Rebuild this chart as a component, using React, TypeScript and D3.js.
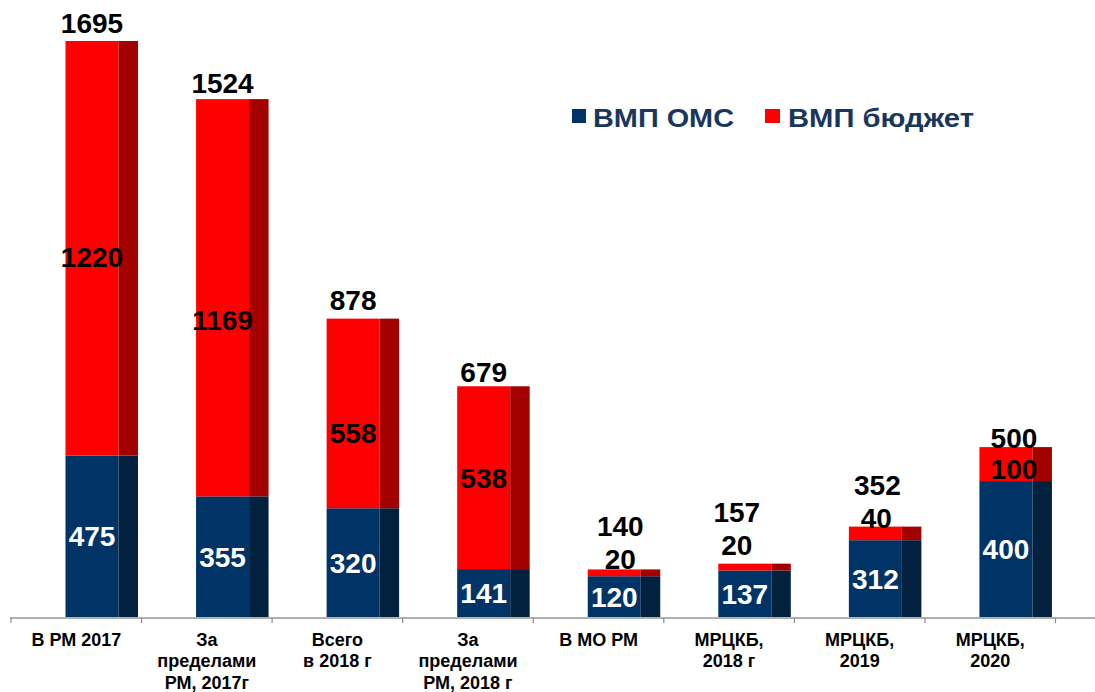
import React from "react";
import * as d3 from "d3";

// ---- data ----
const categories = [
  "В РМ 2017",
  "За\nпределами\nРМ, 2017г",
  "Всего\nв 2018 г",
  "За\nпределами\nРМ, 2018 г",
  "В МО РМ",
  "МРЦКБ,\n2018 г",
  "МРЦКБ,\n2019",
  "МРЦКБ,\n2020",
];
const seriesNames = ["ВМП ОМС", "ВМП бюджет"];
// labelled values
const omsValues = [475, 355, 320, 141, 120, 137, 312, 400];
const budgetValues = [1220, 1169, 558, 538, 20, 20, 40, 100];
const totals = [1695, 1524, 878, 679, 140, 157, 352, 500];
// heights the bars are actually drawn with in the original (2019 bar is drawn shorter than its label)
const omsDrawn = [475, 355, 320, 141, 120, 137, 226, 400];

// ---- layout (label nudges, px) ----
const totalGap = [8, 6, 9, 4, 33, 42, 32, -1];
const totalDx = [0, 0, 0, 0, 6, -8, 2, 8];
const redDy = [9, 22, 19, 0, -14, -22, -16, 5];
const redDx = [0, 0, 0, 0, 6, -8, 1, 8];

const W = 1095;
const H = 692;
const BASE = 617;
const FONT = "'Liberation Sans', Arial, sans-serif";
const C_BLUE = "#003366";
const C_BLUE_SIDE = "#01213f";
const C_RED = "#ff0000";
const C_RED_SIDE = "#a30000";
const C_LEGEND = "#1b365d";

export default function App() {
  const x = d3.scaleBand<string>().domain(categories).range([11, 1055.5]).paddingInner(0).paddingOuter(0);
  const y = d3.scaleLinear().domain([0, 1695]).range([BASE, 41]);
  const step = x.step();
  const FRONT_OFF = 54.5;
  const FRONT_W = 53;
  const SIDE_W = 19.5;
  const capHalf = 10.2;

  return (
    <svg
      width={W}
      height={H}
      style={{ position: "absolute", left: 0, top: 0, background: "#fff", fontFamily: FONT }}
    >
      {/* bars */}
      {categories.map((c, i) => {
        const fx = (x(c) as number) + FRONT_OFF;
        const yB = y(omsDrawn[i]);
        const yR = y(omsDrawn[i] + budgetValues[i]);
        const cx = fx + FRONT_W / 2;
        const redMid = (yR + yB) / 2;
        return (
          <g key={c}>
            <rect x={fx} y={yB} width={FRONT_W} height={BASE - yB} fill={C_BLUE} />
            <rect x={fx + FRONT_W} y={yB} width={SIDE_W} height={BASE - yB} fill={C_BLUE_SIDE} />
            <rect x={fx} y={yR} width={FRONT_W} height={yB - yR} fill={C_RED} />
            <rect x={fx + FRONT_W} y={yR} width={SIDE_W} height={yB - yR} fill={C_RED_SIDE} />
            {/* blue label */}
            <text
              x={cx}
              y={(yB + BASE) / 2 + capHalf}
              textAnchor="middle"
              fontSize={28}
              fontWeight="bold"
              fill="#fff"
            >
              {omsValues[i]}
            </text>
            {/* red label */}
            <text
              x={cx + redDx[i]}
              y={redMid + redDy[i] + capHalf}
              textAnchor="middle"
              fontSize={28}
              fontWeight="bold"
              fill="#000"
            >
              {budgetValues[i]}
            </text>
            {/* total label */}
            <text
              x={cx + totalDx[i]}
              y={yR - totalGap[i]}
              textAnchor="middle"
              fontSize={28}
              fontWeight="bold"
              fill="#000"
            >
              {totals[i]}
            </text>
          </g>
        );
      })}

      {/* axis */}
      <line x1={10} x2={W} y1={618} y2={618} stroke="#b0b0b0" strokeWidth={2} />
      {d3.range(categories.length + 1).map((k) => {
        const tx = 11 + k * step;
        return <line key={k} x1={tx} x2={tx} y1={618} y2={623} stroke="#8c8c8c" strokeWidth={1.2} />;
      })}
      {categories.map((c) => {
        const cx = (x(c) as number) + step / 2;
        return (
          <text key={c} x={cx} y={645.5} textAnchor="middle" fontSize={18} fontWeight="bold" fill="#000">
            {c.split("\n").map((ln, j) => (
              <tspan key={j} x={cx} dy={j === 0 ? 0 : 21.5}>
                {ln}
              </tspan>
            ))}
          </text>
        );
      })}

      {/* legend */}
      <rect x={572} y={109} width={14} height={14} fill={C_BLUE} />
      <text
        x={593}
        y={126.5}
        fontSize={25}
        fontWeight="bold"
        fill={C_LEGEND}
        textLength={141}
        lengthAdjust="spacingAndGlyphs"
      >
        {seriesNames[0]}
      </text>
      <rect x={765} y={109} width={15} height={14} fill={C_RED} />
      <text
        x={788}
        y={126.5}
        fontSize={25}
        fontWeight="bold"
        fill={C_LEGEND}
        textLength={186}
        lengthAdjust="spacingAndGlyphs"
      >
        {seriesNames[1]}
      </text>
    </svg>
  );
}
